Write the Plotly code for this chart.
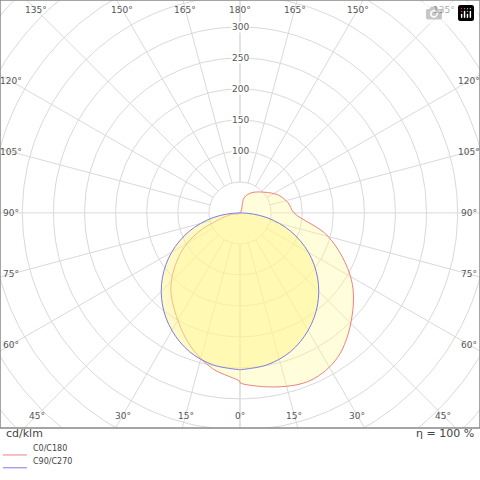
import numpy as np
import plotly.graph_objects as go

# intensity in cd/klm, gamma angle measured from nadir
c0_angles = [0, 12, 23, 34, 46, 59, 75, 90, 102, 115, 131, 151, 165, 180]
c0_values = [274, 287, 293, 281, 249, 209, 147, 87, 79, 68, 51, 37, 25, 0]
c180_angles = [0, 10, 20, 30, 43, 56, 65, 72, 80, 90]
c180_values = [272, 255, 230, 200, 163, 115, 75, 37, 15, 0]
c90_angles = [0, 10, 20, 30, 40, 50, 60, 70, 80, 90]
c90_values = [253, 249, 238, 219, 194, 163, 127, 87, 44, 0]
c270_values = [253, 249, 238, 219, 194, 163, 127, 87, 44, 0]
ring_labels = [100, 150, 200, 250, 300]
spoke_angles = list(range(0, 181, 15))

def to_xy(angles, values, side):
    a = np.radians(angles)
    v = np.array(values, dtype=float)
    return side * v * np.sin(a), -v * np.cos(a)

fig = go.Figure()
GRID = "#d9d9d9"

# grid rings
t = np.linspace(0, 2 * np.pi, 241)
for r in range(50, 601, 50):
    fig.add_trace(go.Scatter(x=r * np.cos(t), y=r * np.sin(t), mode="lines",
                             line=dict(color=GRID, width=1), hoverinfo="skip"))
# spokes
for a in spoke_angles:
    for side in (1, -1):
        xs, ys = to_xy([a, a], [50, 700], side)
        fig.add_trace(go.Scatter(x=xs, y=ys, mode="lines",
                                 line=dict(color=GRID, width=1), hoverinfo="skip"))

# C0/C180 curve
xl, yl = to_xy(c180_angles[::-1], c180_values[::-1], -1)
xr, yr = to_xy(c0_angles, c0_values, 1)
fig.add_trace(go.Scatter(x=np.r_[xl, xr], y=np.r_[yl, yr], mode="lines",
                         line=dict(color="#f08080", width=1, shape="spline"),
                         fill="toself", fillcolor="rgba(255,248,150,0.35)",
                         name="C0/C180", hoverinfo="skip"))
# C90/C270 curve
xl, yl = to_xy(c90_angles[::-1], c270_values[::-1], -1)
xr, yr = to_xy(c90_angles, c90_values, 1)
fig.add_trace(go.Scatter(x=np.r_[xl, xr], y=np.r_[yl, yr], mode="lines",
                         line=dict(color="#7b7bea", width=1, shape="spline"),
                         fill="toself", fillcolor="rgba(255,245,140,0.5)",
                         name="C90/C270", hoverinfo="skip"))

XR, YT, YB = 386, 343.5, -347
ann = []
FONT = dict(family="DejaVu Sans", size=9, color="#555555")
# angle labels along the frame
for a in spoke_angles:
    for side in (1, -1):
        if a in (0, 180) and side == -1:
            continue
        dx, dy = np.sin(np.radians(a)), -np.cos(np.radians(a))
        ty = (YT - 16) if dy > 0 else (YB + 20)
        tx = XR - 18
        s = min(abs(tx / dx) if abs(dx) > 1e-9 else 1e9,
                abs(ty / dy) if abs(dy) > 1e-9 else 1e9)
        ann.append(dict(x=side * s * dx, y=s * dy, text=f"{a}°", showarrow=False,
                        font=FONT, xref="x", yref="y"))
for r in ring_labels:
    ann.append(dict(x=0, y=r, text=str(r), showarrow=False, font=FONT,
                    bgcolor="white", borderpad=0, xref="x", yref="y"))

LEG = dict(family="DejaVu Sans", size=11, color="#444444")
ann += [
    dict(x=0.008, y=-0.033, xref="paper", yref="paper", text="cd/klm", showarrow=False,
         xanchor="left", font=LEG),
    dict(x=0.992, y=-0.033, xref="paper", yref="paper", text="η = 100 %", showarrow=False,
         xanchor="right", font=LEG),
    dict(x=0.065, y=-0.063, xref="paper", yref="paper", text="C0/C180", showarrow=False,
         xanchor="left", font=dict(family="DejaVu Sans", size=8, color="#444444")),
    dict(x=0.065, y=-0.093, xref="paper", yref="paper", text="C90/C270", showarrow=False,
         xanchor="left", font=dict(family="DejaVu Sans", size=8, color="#444444")),
]
shapes = [
    dict(type="rect", xref="paper", yref="paper", x0=0, x1=1, y0=0, y1=1,
         line=dict(color="#888888", width=1.5)),
    dict(type="line", xref="paper", yref="paper", x0=0.006, x1=0.056, y0=-0.063, y1=-0.063,
         line=dict(color="#f08080", width=1)),
    dict(type="line", xref="paper", yref="paper", x0=0.006, x1=0.056, y0=-0.093, y1=-0.093,
         line=dict(color="#7b7bea", width=1)),
]

fig.update_layout(
    width=480, height=480,
    margin=dict(l=0, r=0, t=0, b=52),
    paper_bgcolor="white", plot_bgcolor="white",
    showlegend=False,
    xaxis=dict(range=[-XR, XR], visible=False, fixedrange=True),
    yaxis=dict(range=[YB, YT], visible=False, fixedrange=True),
    annotations=ann, shapes=shapes,
)
fig.write_html("out.html",
               post_script="document.body.style.margin='0';document.body.style.overflow='hidden';")
